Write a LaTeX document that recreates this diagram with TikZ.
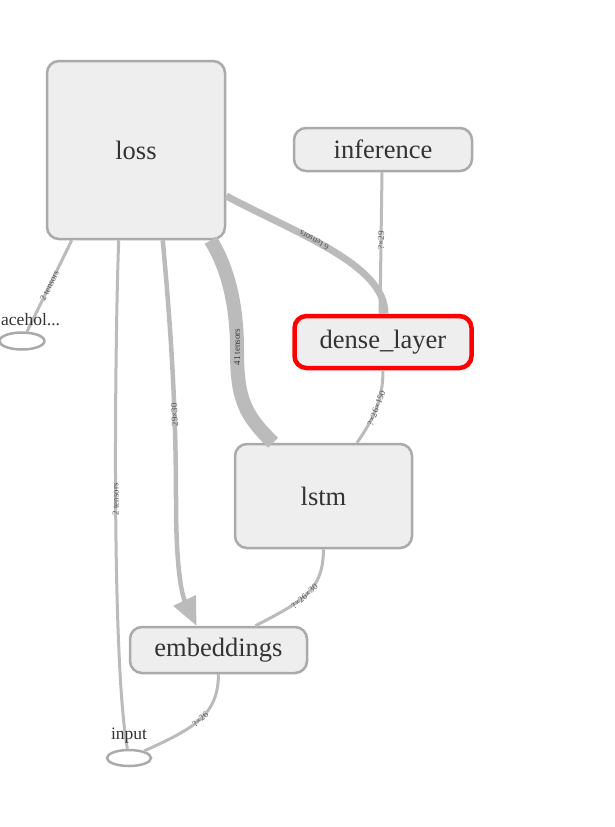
\documentclass[tikz,border=0pt]{standalone}
\usepackage{fontspec}
\setmainfont{Liberation Serif}
\usetikzlibrary{arrows.meta,shapes.geometric}
\definecolor{nodefill}{HTML}{EEEEEE}
\definecolor{nodeline}{HTML}{AAAAAA}
\definecolor{edgecol}{HTML}{BBBBBB}
\definecolor{txt}{HTML}{333333}
\definecolor{lbl}{HTML}{555555}
\begin{document}
\begin{tikzpicture}[x=1pt,y=-1pt,
  opbox/.style={draw=nodeline, line width=2.5pt, fill=nodefill, rounded corners=12pt,
    text=txt, font=\fontsize{26.5}{30}\selectfont, inner sep=0pt},
  phold/.style={ellipse, draw=nodeline, line width=2.5pt, fill=white, inner sep=0pt},
  ptext/.style={text=txt, font=\fontsize{17.5}{20}\selectfont, inner sep=1pt},
  edge/.style={draw=edgecol, line width=3pt},
  elabel/.style={font=\fontsize{9}{10}\selectfont, text=lbl, sloped, allow upside down, inner sep=0pt}]
\useasboundingbox (0,0) rectangle (615,827);

% nodes
\node[opbox, minimum width=178pt, minimum height=178pt] (loss) at (136,150) {loss};
\node[opbox, minimum width=178pt, minimum height=43pt] (inference) at (383,149.5) {inference};
\node[opbox, minimum width=177pt, minimum height=52pt, draw=red, line width=4.5pt] (dense) at (383,342) {dense\_layer};
\node[opbox, minimum width=177pt, minimum height=104pt] (lstm) at (323.5,496) {lstm};
\node[opbox, minimum width=177pt, minimum height=46pt] (emb) at (218.5,650) {embeddings};
\node[phold, minimum width=45pt, minimum height=17pt] (ph) at (22,341) {};
\node[phold, minimum width=44pt, minimum height=16pt] (input) at (129,758) {};

% edges
\draw[edge] (ph.62) -- node[elabel, pos=0.5] {2 tensors} ([xshift=26pt]loss.south west);

\draw[edge] (input.100) .. controls (110,650) and (116,300) .. node[elabel, pos=0.47] {2 tensors} ([xshift=73pt]loss.south west);

\draw[edge, line width=4.5pt, {Triangle[length=28pt,width=24pt]}-] ([xshift=-22pt]emb.north)
  .. controls (182,595) and (176,570) .. (176,500)
  .. controls (176,400) and (170,320) .. node[elabel, pos=0.3] {29×30} ([xshift=117pt]loss.south west);

\draw[edge, line width=14pt] ([xshift=-50.5pt]lstm.north)
  .. controls (245,415) and (237,400) .. (237,350)
  .. controls (237,300) and (226,265) .. node[elabel, pos=0.02, text=txt] {41 tensors} ([xshift=165pt]loss.south west);

\draw[edge, line width=7pt] ([xshift=2pt]dense.north)
  .. controls (385,265) and (300,235) .. node[elabel, pos=0.6] {6 tensors} ([yshift=-46pt]loss.east);

\draw[edge] ([xshift=-3pt]dense.north) -- node[elabel, pos=0.52] {?×29} ([xshift=-1pt]inference.south);

\draw[edge] ([xshift=33.5pt]lstm.north) .. controls (374,418) and (383,400) .. node[elabel, pos=0.5] {?×26×150} (dense.south);

\draw[edge] ([xshift=37pt]emb.north) .. controls (305,600) and (323,590) .. node[elabel, pos=0.45] {?×26×30} (lstm.south);

\draw[edge] (input.25) .. controls (195,728) and (218,715) .. node[elabel, pos=0.5] {?×26} (emb.south);

% outside labels on top
\node[ptext, anchor=west] (phl) at (0,320) {acehol...};
\node[ptext] (inl) at (129,736) {input};
\end{tikzpicture}
\end{document}
